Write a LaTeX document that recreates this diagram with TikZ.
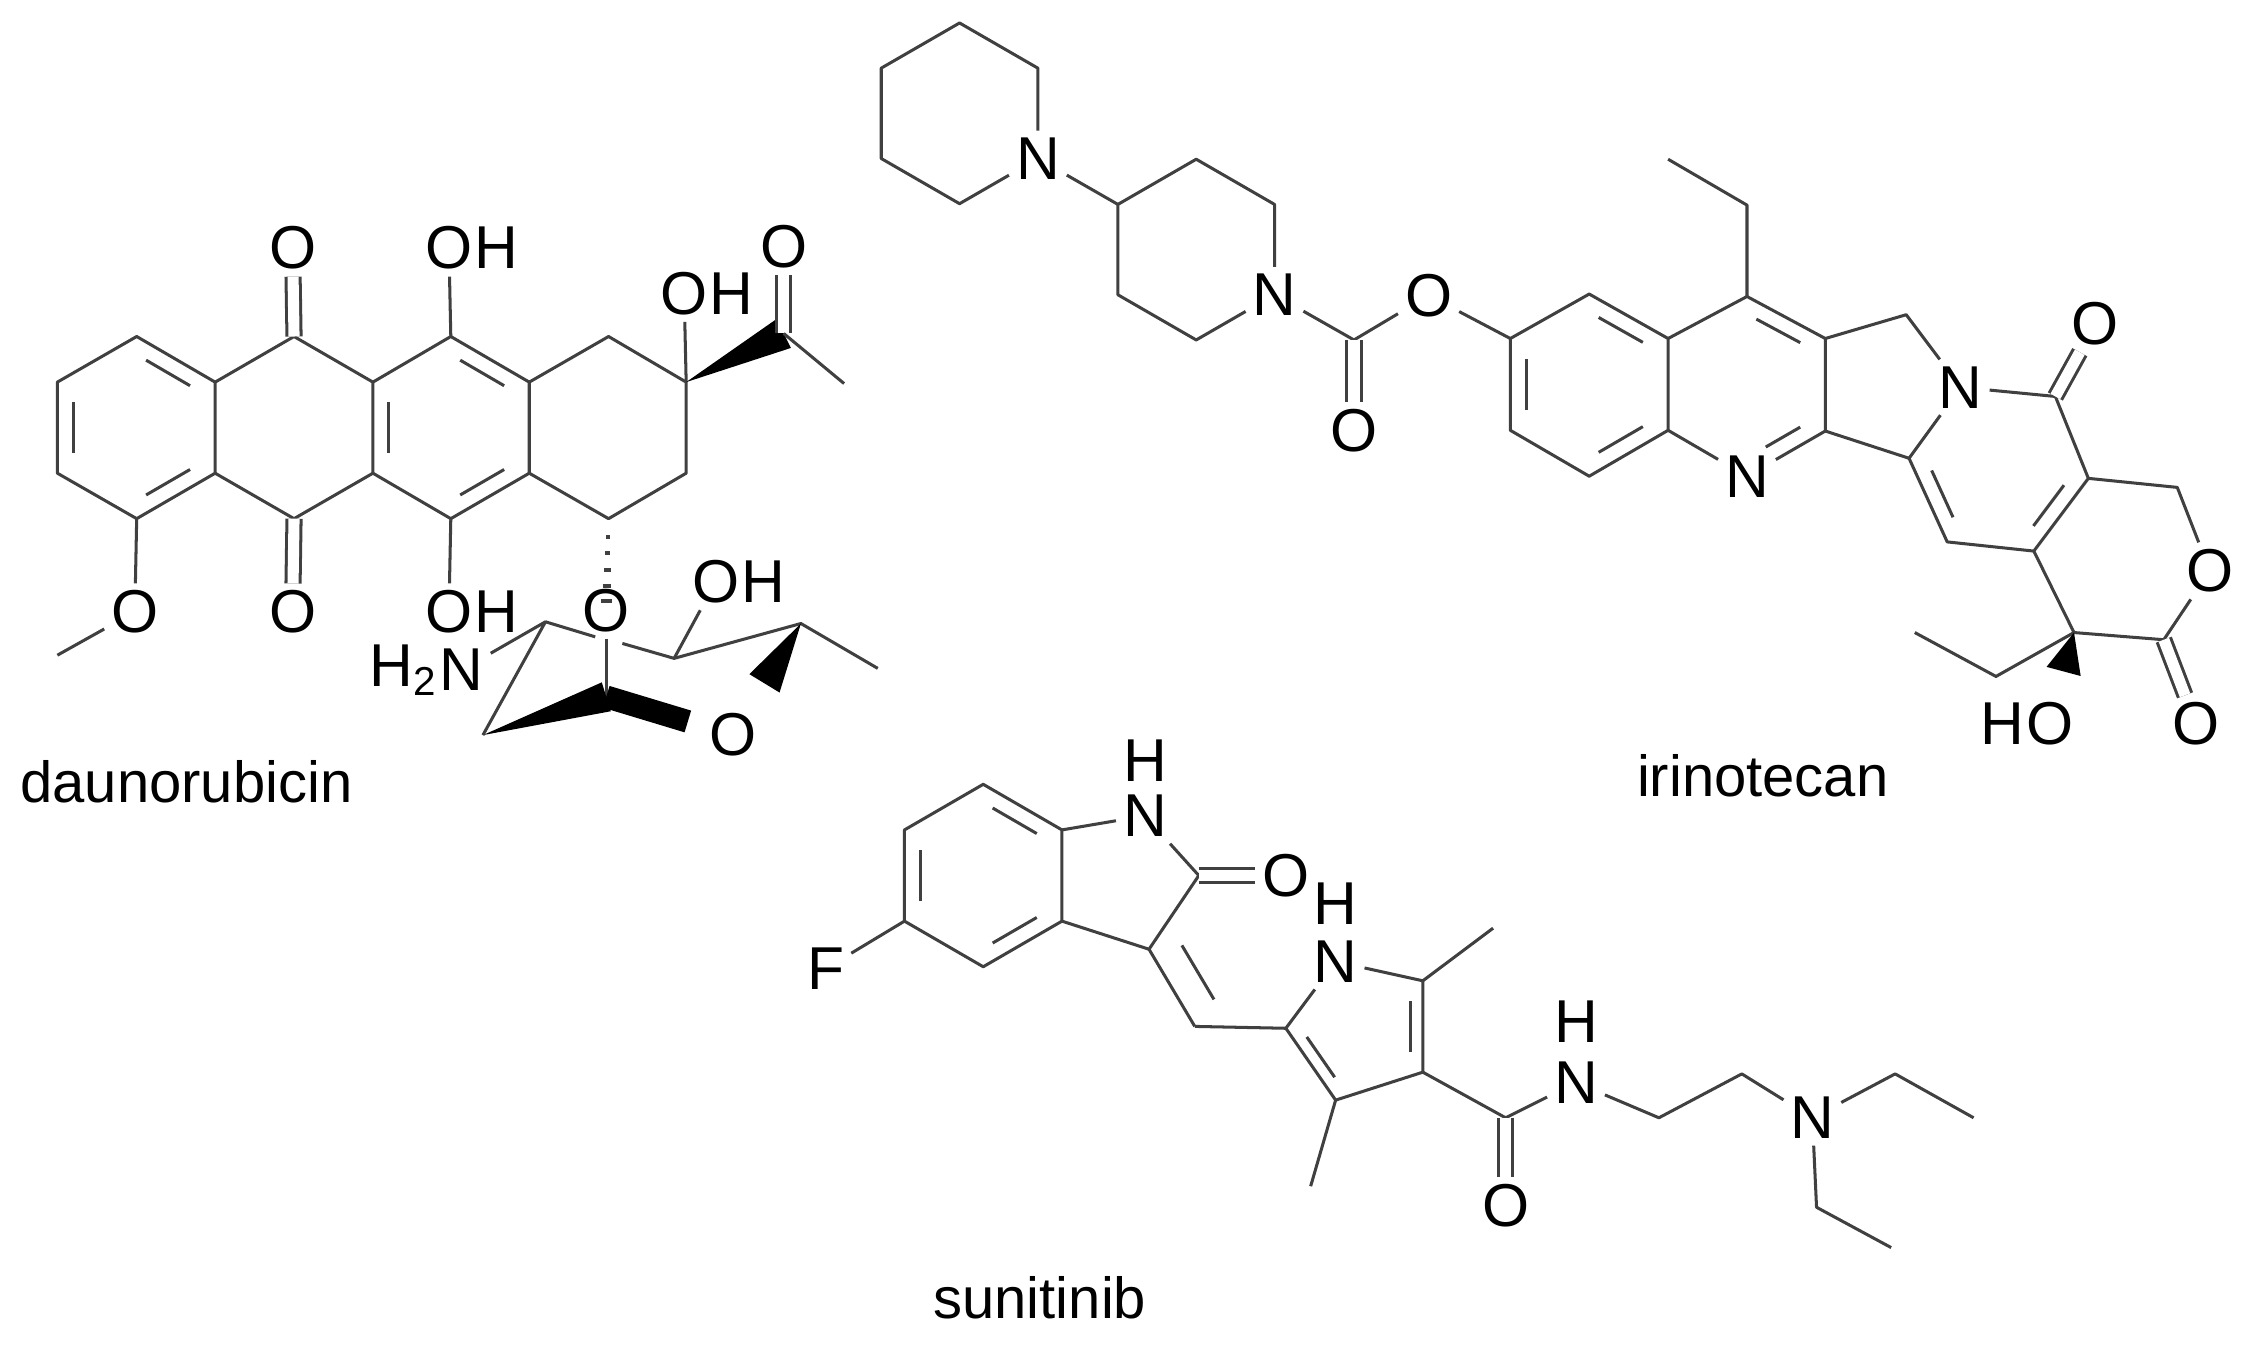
\documentclass[tikz,border=0pt]{standalone}
\usepackage{fontspec}
\setmainfont{Liberation Sans}
\usetikzlibrary{calc,positioning}
\begin{document}
\begin{tikzpicture}[x=0.01cm,y=-0.01cm,
  bond/.style={draw=black!75,line width=0.6pt,line join=round},
  dbl/.style={draw=black!75,line width=0.6pt,double=white,double distance=2.2pt},
  atom/.style={inner sep=1.2pt,font=\fontsize{12}{14}\selectfont},
  hatom/.style={inner sep=0pt,font=\fontsize{12}{14}\selectfont},
  lbl/.style={font=\fontsize{11.5}{14}\selectfont},
  wedge/.style={fill=black}]
\newcommand\ib[3]{\draw[bond] ($($(#1)!.15!(#2)$)!.2!(#3)$) -- ($($(#1)!.85!(#2)$)!.2!(#3)$);}
\newcommand\wdg[3]{\fill[wedge] (#1) -- ($(#2)!#3!90:(#1)$) -- ($(#2)!#3!-90:(#1)$) -- cycle;}
\useasboundingbox (0,0) rectangle (1568,944);
% ================= daunorubicin =================
\coordinate (a1) at (40,266.4); \coordinate (a2) at (95.3,234.6); \coordinate (a3) at (150,266.4);
\coordinate (a4) at (150,329.9); \coordinate (a5) at (95.3,361.6); \coordinate (a6) at (40,329.9);
\coordinate (ca) at (95.3,298);
\coordinate (b1) at (205,234.6); \coordinate (b2) at (260,266.4); \coordinate (b3) at (260,329.9); \coordinate (b4) at (205,361.6);
\coordinate (c1) at (314.3,234.6); \coordinate (c2) at (369,266.4); \coordinate (c3) at (369,329.9); \coordinate (c4) at (314.3,361.6);
\coordinate (cc) at (314.3,298);
\coordinate (d1) at (424.3,234.6); \coordinate (d2) at (478.4,266.4); \coordinate (d3) at (478.4,329.9); \coordinate (d4) at (424.3,361.6);
\draw[bond] (a1)--(a2)--(a3)--(a4)--(a5)--(a6)--cycle;
\draw[bond] (a3)--(b1)--(b2)--(b3)--(b4)--(a4);
\draw[bond] (b2)--(c1)--(c2)--(c3)--(c4)--(b3);
\draw[bond] (c2)--(d1)--(d2)--(d3)--(d4)--(c3);
\ib{a2}{a3}{ca} \ib{a6}{a1}{ca} \ib{a4}{a5}{ca}
\ib{c1}{c2}{cc} \ib{b2}{b3}{cc} \ib{c3}{c4}{cc}
\node[atom] (ot) at (204,173) {O}; \node[atom] (ob) at (204,426.6) {O};
\draw[dbl] (b1)--(ot); \draw[dbl] (b4)--(ob);
\node[atom] (oh1) at (313,173) {O}; \node[hatom,right=-1.2pt of oh1] (h1) {H};
\node[atom] (oh2) at (313,426.6) {O}; \node[hatom,right=-1.2pt of oh2] (h2) {H};
\draw[bond] (c1)--(oh1); \draw[bond] (c4)--(oh2);
\node[atom] (om) at (94,426.6) {O}; \coordinate (me1) at (40,456.8);
\draw[bond] (a5)--(om)--(me1);
\node[atom] (oh3) at (477,204.6) {O}; \node[hatom,right=-1.2pt of oh3] (h3) {H};
\draw[bond] (d2)--(oh3);
\coordinate (ac) at (546.4,232.5); \node[atom] (oac) at (546.4,172) {O}; \coordinate (me2) at (588.5,267.4);
\wdg{d2}{ac}{3.2pt}
\draw[dbl] (ac)--(oac); \draw[bond] (ac)--(me2);
% sugar
\node[atom] (og) at (422.7,425.4) {O};
\foreach \t/\w in {0.2/1.2,0.38/1.8,0.56/2.4,0.74/3.0,0.9/3.5}{
  \draw[black!75,line width=0.8pt] ($(d4)!\t!(og)+(-\w,0)$) -- ($(d4)!\t!(og)+(\w,0)$);}
\coordinate (s1) at (422.7,485.8); \coordinate (s2) at (336.7,512.5); \coordinate (s3) at (380.3,433.5);
\coordinate (s4) at (470,459); \coordinate (s5) at (558.4,434.7); \coordinate (me3) at (612,466);
\coordinate (g1) at (415,444); \coordinate (g2) at (433.9,448.6);
\node[atom] (nh) at (322,467) {N}; \node[hatom,left=-1.2pt of nh] (h2n) {H\textsubscript{2}};
\node[atom] (or) at (511,512.5) {O};
\node[atom] (oh4) at (499,405.6) {O}; \node[hatom,right=-1.2pt of oh4] (h4) {H};
\draw[bond] (og)--(s1);
\wdg{s2}{s1}{3pt}
\draw[black,line width=4.5pt,shorten >=3pt] (s1)--(or);
\draw[bond] (s2)--(s3)--(nh);
\draw[bond] (s3)--(g1); \draw[bond] (g2)--(s4)--(s5)--(me3);
\draw[bond] (s4)--(oh4);
\path (s5) -- (or) coordinate[pos=0.72] (wend);
\wdg{s5}{wend}{3.5pt}
\node[lbl] (lab1) at (130,545) {daunorubicin};
% ================= irinotecan =================
\coordinate (p1) at (669,16); \coordinate (p2) at (723.6,47.5); \node[atom] (n1) at (723.6,110.5) {N};
\coordinate (p4) at (669,142); \coordinate (p5) at (614.4,110.5); \coordinate (p6) at (614.4,47.5);
\draw[bond] (n1)--(p2)--(p1)--(p6)--(p5)--(p4)--(n1);
\coordinate (q1) at (834,111); \coordinate (q2) at (888.6,142.5); \node[atom] (n2) at (888.6,205.5) {N};
\coordinate (q4) at (834,237); \coordinate (q5) at (779.4,205.5); \coordinate (q6) at (779.4,142.5);
\draw[bond] (n2)--(q2)--(q1)--(q6)--(q5)--(q4)--(n2);
\draw[bond] (n1)--(q6);
\coordinate (cb) at (944,237); \node[atom] (oe) at (996,206) {O}; \node[atom] (oc) at (944,300) {O};
\draw[bond] (n2)--(cb)--(oe); \draw[dbl] (cb)--(oc);
\coordinate (e1) at (1053,236); \coordinate (e2) at (1108,205); \coordinate (e3) at (1163,236);
\coordinate (e4) at (1163,300); \coordinate (e5) at (1108,332); \coordinate (e6) at (1053,300); \coordinate (ce) at (1108,268);
\draw[bond] (oe)--(e1);
\draw[bond] (e1)--(e2)--(e3)--(e4)--(e5)--(e6)--cycle;
\ib{e6}{e1}{ce} \ib{e2}{e3}{ce} \ib{e4}{e5}{ce}
\coordinate (r1) at (1218,206.7); \coordinate (r2) at (1272.6,236); \coordinate (r3) at (1272.6,300.5);
\node[atom] (n3) at (1218,332) {N}; \coordinate (cr) at (1218,268);
\draw[bond] (e3)--(r1)--(r2)--(r3)--(n3)--(e4);
\ib{r1}{r2}{cr}
\draw[bond] ($($(n3)!.3!(r3)$)!.2!(cr)$) -- ($($(n3)!.85!(r3)$)!.2!(cr)$);
\coordinate (et1) at (1218,143); \coordinate (et2) at (1163,111);
\draw[bond] (r1)--(et1)--(et2);
\coordinate (m1) at (1329,219.4); \node[atom] (n4) at (1367,270) {N}; \coordinate (f1) at (1331,319.5);
\draw[bond] (r2)--(m1)--(n4)--(f1)--(r3);
\coordinate (k1) at (1433,276.4); \node[atom] (ok) at (1461,225.7) {O};
\coordinate (k2) at (1456,333.5); \coordinate (k3) at (1418,384.2); \coordinate (k4) at (1357.6,377.8);
\coordinate (ck) at (1393.8,326.9);
\draw[bond] (n4)--(k1)--(k2)--(k3)--(k4)--(f1);
\draw[dbl] (k1)--(ok);
\ib{f1}{k4}{ck} \ib{k2}{k3}{ck}
\coordinate (l1) at (1518,339.8); \node[atom] (ol) at (1540.7,398) {O}; \coordinate (l2) at (1508.6,446);
\node[atom] (ol2) at (1531,504.6) {O}; \coordinate (l3) at (1446,441);
\draw[bond] (k2)--(l1)--(ol)--(l2)--(l3)--(k3);
\draw[dbl] (l2)--(ol2);
\coordinate (et3) at (1391.6,471.6); \coordinate (et4) at (1335,441);
\draw[bond] (l3)--(et3)--(et4);
\node[atom] (oh5) at (1429,504.6) {O}; \node[hatom,left=-1.2pt of oh5] (h5) {H};
\path (l3) -- (oh5) coordinate[pos=0.62] (wend2);
\wdg{l3}{wend2}{3.5pt}
\node[lbl] (lab2) at (1229,541) {irinotecan};
% ================= sunitinib =================
\coordinate (t1) at (685.5,546.8); \coordinate (t2) at (740.4,578.6); \coordinate (t3) at (740.4,642.2);
\coordinate (t4) at (685.5,674); \coordinate (t5) at (630.6,642.2); \coordinate (t6) at (630.6,578.6); \coordinate (ct) at (685.5,610.4);
\draw[bond] (t1)--(t2)--(t3)--(t4)--(t5)--(t6)--cycle;
\ib{t1}{t2}{ct} \ib{t6}{t5}{ct} \ib{t3}{t4}{ct}
\node[atom] (fl) at (575.7,675.3) {F}; \draw[bond] (t5)--(fl);
\node[atom] (n5) at (798.2,568.8) {N}; \node[atom] (hn5) at (798.2,530) {H};
\coordinate (u1) at (835.8,610.4); \node[atom] (ou) at (896.5,610.4) {O}; \coordinate (u2) at (801.1,661.8);
\draw[bond] (t2)--(n5)--(u1)--(u2)--(t3);
\draw[dbl] (u1)--(ou);
\coordinate (u3) at (833,715.6);
\draw[bond] (u2)--(u3);
\draw[bond] ($($(u2)!.15!(u3)$)!6pt!90:(u3)$) -- ($($(u2)!.85!(u3)$)!6pt!90:(u3)$);
\coordinate (v1) at (896.5,716.9); \node[atom] (n6) at (931.2,670.4) {N}; \node[atom] (hn6) at (931.2,630) {H};
\coordinate (v2) at (992,683.8); \coordinate (v3) at (992,747.5); \coordinate (v4) at (931.2,767);
\coordinate (cv) at (948.6,717.1);
\draw[bond] (u3)--(v1)--(n6)--(v2)--(v3)--(v4)--(v1);
\ib{v2}{v3}{cv} \ib{v4}{v1}{cv}
\coordinate (me4) at (1041,647.1); \coordinate (me5) at (913.8,827);
\draw[bond] (v2)--(me4); \draw[bond] (v4)--(me5);
\coordinate (w1) at (1049.7,779.3); \node[atom] (ow) at (1049.7,840.4) {O};
\node[atom] (n7) at (1098.8,754.8) {N}; \node[atom] (hn7) at (1098.8,712) {H};
\draw[bond] (v3)--(w1)--(n7); \draw[dbl] (w1)--(ow);
\coordinate (w2) at (1156.6,779.3); \coordinate (w3) at (1214.4,748.7);
\node[atom] (n8) at (1263.6,779.3) {N};
\coordinate (w4) at (1321.3,748.7); \coordinate (w5) at (1376,779.3);
\coordinate (w6) at (1266.5,841.7); \coordinate (w7) at (1318.5,869.8);
\draw[bond] (n7)--(w2)--(w3)--(n8)--(w4)--(w5);
\draw[bond] (n8)--(w6)--(w7);
\node[lbl] (lab3) at (725,905) {sunitinib};
\end{tikzpicture}
\end{document}
